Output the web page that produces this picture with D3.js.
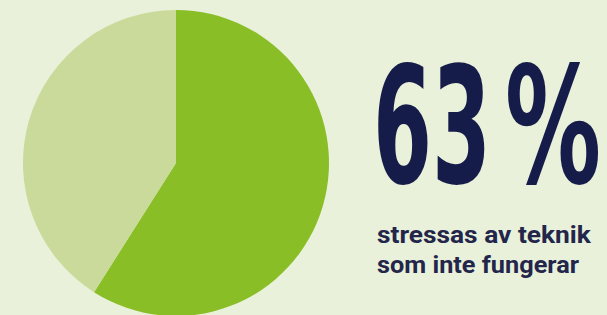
<!DOCTYPE html>
<html lang="sv">
<head>
  <meta charset="UTF-8">
  <title>63 %</title>
  <style>
    body { margin: 0; background: #e9f1da; }
    svg { display: block; }
  </style>
</head>
<body>
<script src="https://d3js.org/d3.v7.min.js"></script>
<script>
  // data
  const categories = ["stressas", "övriga"];
  const shares = [59, 41];
  const sliceColors = ["#8abe27", "#c9da9a"];
  const bigParts = ["63", "%"];
  const subLines = ["stressas av teknik", "som inte fungerar"];

  const w = 607, h = 315;
  const cx = 176, cy = 163, r = 153;

  const svg = d3.select("body")
    .append("svg")
    .attr("width", w)
    .attr("height", h);

  svg.append("rect")
    .attr("width", w)
    .attr("height", h)
    .attr("fill", "#e9f1da");

  const pie = d3.pie().sort(null).value(d => d.value);
  const arc = d3.arc().innerRadius(0).outerRadius(r);

  const slices = categories.map((c, i) => ({ name: c, value: shares[i] }));

  svg.append("g")
    .attr("transform", "translate(" + cx + "," + cy + ")")
    .selectAll("path")
    .data(pie(slices))
    .enter()
    .append("path")
    .attr("d", arc)
    .attr("fill", (d, i) => sliceColors[i]);

  // squeeze a text horizontally to the wanted width
  function squeeze(sel, x, y, width) {
    sel.each(function(d, i) {
      const natural = this.getComputedTextLength();
      const sx = width(i) / natural;
      d3.select(this).attr("transform",
        "translate(" + x(i) + "," + y(i) + ") scale(" + sx + ",1)");
    });
  }

  // big number, number and sign set apart so the gap can be tuned
  const bigPos = [{ x: 373, len: 118 }, { x: 505, len: 96 }];
  svg.append("g")
    .selectAll("text")
    .data(bigParts)
    .enter()
    .append("text")
    .attr("font-family", "'DejaVu Sans Condensed', 'DejaVu Sans', sans-serif")
    .attr("font-stretch", "condensed")
    .attr("font-weight", 700)
    .attr("font-size", 162)
    .attr("fill", "#161c4a")
    .text(d => d)
    .call(squeeze, i => bigPos[i].x, () => 183, i => bigPos[i].len);

  const subLen = [214, 202];
  svg.append("g")
    .selectAll("text")
    .data(subLines)
    .enter()
    .append("text")
    .attr("font-family", "Roboto, sans-serif")
    .attr("font-weight", 700)
    .attr("font-size", 23.5)
    .attr("fill", "#23264a")
    .text(d => d)
    .call(squeeze, () => 377, i => 243 + i * 30, i => subLen[i]);
</script>
</body>
</html>
